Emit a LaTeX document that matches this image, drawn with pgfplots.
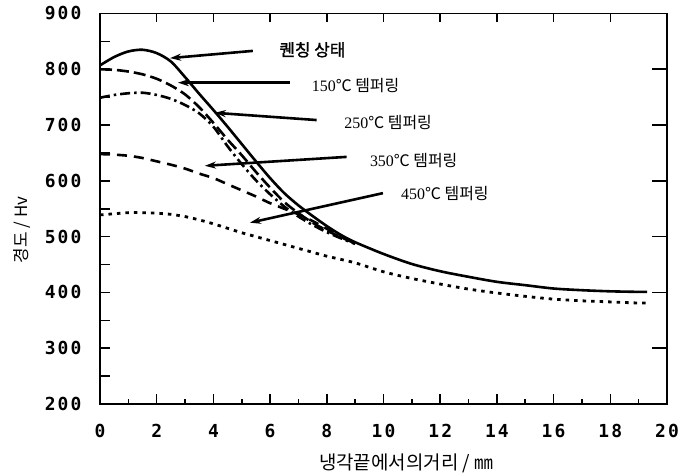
\documentclass[border=0pt]{standalone}
\usepackage{fontspec}
\setmainfont{Liberation Serif}
\newfontfamily\kr[FakeBold=1.2]{Noto Sans CJK KR}
\newfontfamily\krr{Noto Sans CJK KR}
\newfontfamily\tickfont[LetterSpace=12]{DejaVu Sans Mono}
\usepackage{pgfplots}
\pgfplotsset{compat=1.18}
\usetikzlibrary{arrows.meta}
\begin{document}
\begin{tikzpicture}
\path (-100bp,-66bp) rectangle (583bp,404bp);
\begin{axis}[
  width=567bp, height=390.5bp, scale only axis,
  xmin=0, xmax=20, ymin=200, ymax=900,
  axis line style={line width=1.7bp},
  tick align=inside,
  every tick/.style={black, line width=1.6bp},
  xtick={0,2,...,20}, xtick pos=lower,
  ytick={200,300,...,900}, ytick pos=lower,
  major tick length=10bp,
  /pgf/number format/assume math mode=true,
  ticklabel style={font=\tickfont\bfseries\fontsize{18}{18}\selectfont},
  yticklabel style={xshift=-15bp},
  xticklabel style={yshift=-17bp},
  xlabel={\krr 냉각끝에서의거리 / ㎜},
  ylabel={\krr 경도 / Hv},
  xlabel style={font=\fontsize{19}{19}\selectfont, at={(axis description cs:0.54,-0.151)}, anchor=center},
  ylabel style={font=\fontsize{17}{17}\selectfont, at={(axis description cs:-0.138,0.446)}, anchor=center},
  clip=false,
  every axis plot/.append style={black, line width=2.6bp, smooth, tension=0.5, no markers},
]
% tick marks (axis decoration)
\pgfplotsinvokeforeach{0,2,...,20}{
  \draw[line width=1.6bp] (axis cs:#1,200) -- ([yshift=10bp]axis cs:#1,200);
  \draw[line width=1.6bp] (axis cs:#1,900) -- ([yshift=-8bp]axis cs:#1,900);
}
\pgfplotsinvokeforeach{1,3,...,19}{
  \draw[line width=1.6bp] (axis cs:#1,200) -- ([yshift=5bp]axis cs:#1,200);
}
\pgfplotsinvokeforeach{250,300,...,850}{
  \draw[line width=1.6bp] (axis cs:0,#1) -- ([xshift=10bp]axis cs:0,#1);
}
\pgfplotsinvokeforeach{300,400,...,800}{
  \draw[line width=1.6bp] (axis cs:20,#1) -- ([xshift=-15bp]axis cs:20,#1);
}
% quenched
\addplot[solid] coordinates {(0,807)(0.5,822)(1,832)(1.5,835)(2,829)(2.5,814)(3,786)(3.5,756)(4,727)(4.5,697)(5,666)(5.5,635)(6,605)(6.5,578)(7,556)(7.5,537)(8,519)(8.5,503)(9,490)(10,469)(11,451)(12,438)(13,428)(14,419)(15,413)(16,407)(17,404)(18,402)(19,401)(19.3,401)};
% 150
\addplot[dash pattern=on 12bp off 5bp] coordinates {(0,800)(0.5,799)(1,796)(1.5,791)(2,783)(2.5,771)(3,755)(3.5,732)(4,704)(4.5,674)(5,646)(5.5,616)(6,588)(6.5,562)(7,542)(7.5,525)(8,511)(8.5,499)(9,488)};
% 250
\addplot[dash pattern=on 10bp off 4bp on 2.5bp off 4bp] coordinates {(0,749)(0.5,754)(1,757)(1.5,758)(2,754)(2.5,747)(3,736)(3.5,721)(4,697)(4.5,662)(5,630)(5.5,601)(6,576)(6.5,554)(7,536)(7.5,521)(8,508)(8.5,497)(9,487)};
% 350
\addplot[dash pattern=on 10bp off 7bp] coordinates {(0,648)(0.5,647)(1,645)(1.5,641)(2,635)(2.5,629)(3,622)(3.5,613)(4,605)(4.5,594)(5,583)(5.5,572)(6,560)(6.5,550)(7,540)(7.5,528)(8,514)(8.5,500)(9,489)};
% 450
\addplot[dash pattern=on 3.5bp off 5bp, line width=2.8bp] coordinates {(0,539)(0.5,541)(1,543)(1.5,543)(2,542)(2.5,540)(3,536)(3.5,530)(4,523)(4.5,515)(5,507)(5.5,500)(6,493)(6.5,486)(7,479)(7.5,472)(8,465)(9,453)(10,437)(11,425)(12,415)(13,406)(14,399)(15,393)(16,388)(17,385)(18,383)(19,381)(19.3,381)};
% annotations
\begin{scope}[line width=2.6bp, -{Stealth[length=11bp,width=7bp]}]
\draw (axis cs:5.39,833) -- (axis cs:2.47,820);
\draw (axis cs:6.7,776) -- (axis cs:2.75,776);
\draw (axis cs:7.64,709) -- (axis cs:4.05,722);
\draw (axis cs:8.7,643) -- (axis cs:3.7,627);
\draw (axis cs:9.98,578) -- (axis cs:5.29,525);
\end{scope}
\node[anchor=west, font=\kr\fontsize{17}{17}\selectfont] at (axis cs:6.2,835) {퀜칭 상태};
\node[anchor=west, font=\fontsize{16}{16}\selectfont] at (axis cs:7.35,771) {150{\krr ℃ 템퍼링}};
\node[anchor=west, font=\fontsize{16}{16}\selectfont] at (axis cs:8.5,704) {250{\krr ℃ 템퍼링}};
\node[anchor=west, font=\fontsize{16}{16}\selectfont] at (axis cs:9.4,637) {350{\krr ℃ 템퍼링}};
\node[anchor=west, font=\fontsize{16}{16}\selectfont] at (axis cs:10.5,578) {450{\krr ℃ 템퍼링}};
\end{axis}
\end{tikzpicture}
\end{document}
